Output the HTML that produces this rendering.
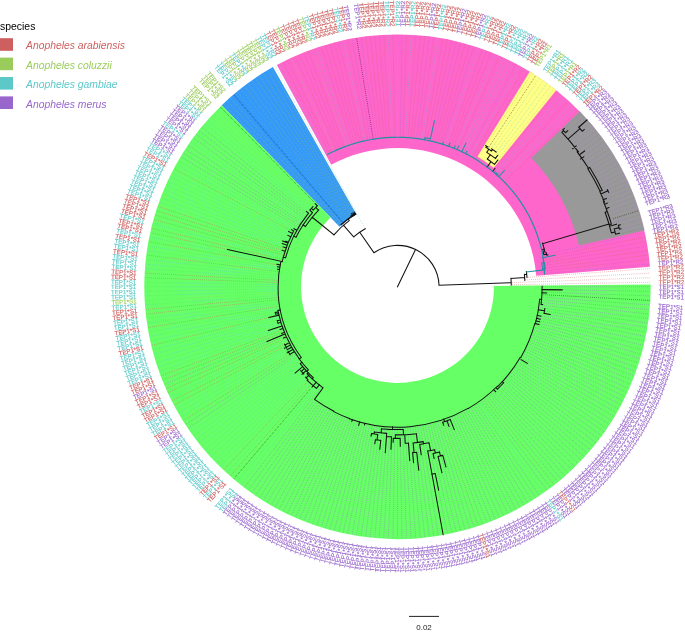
<!DOCTYPE html>
<html lang="en"><head><meta charset="utf-8"><title>TEP1 allele phylogeny</title>
<style>html,body{margin:0;padding:0;background:#fff}body{width:685px;height:632px;overflow:hidden}svg{display:block}</style>
</head><body>
<svg width="685" height="632" viewBox="0 0 685 632">
<defs><filter id="idf" x="0" y="0" width="685" height="632" filterUnits="userSpaceOnUse" color-interpolation-filters="sRGB"><feColorMatrix type="matrix" values="1 0 0 0 0 0 1 0 0 0 0 0 1 0 0 0 0 0 1 0"/></filter></defs>
<rect width="685" height="632" fill="#fff"/>
<g transform="translate(397.5 286.8) scale(1.0016 0.9984) translate(-397.5 -286.8)">
<g>
<path d="M535.97 275.83L649.51 266.83A252.8 252.8 0 0 0 277.07 64.53L331.33 164.67A138.9 138.9 0 0 1 535.97 275.83Z" fill="#ff66cc"/>
<path d="M578.78 245.18L643.89 230.23A252.8 252.8 0 0 0 579.45 111.3L531.37 157.67A186 186 0 0 1 578.78 245.18Z" fill="#999999" stroke="#999999" stroke-width="0.5"/>
<path d="M493.48 167.39L555.88 89.76A252.8 252.8 0 0 0 529.78 71.37L477.66 156.25A153.2 153.2 0 0 1 493.48 167.39Z" fill="#ffff88" stroke="#ffff88" stroke-width="0.5"/>
<path d="M356.45 214.2L273.08 66.74A252.8 252.8 0 0 0 222 104.85L339.6 226.77A83.4 83.4 0 0 1 356.45 214.2Z" fill="#3499f8"/>
<path d="M330.65 217.49L222 104.85A252.8 252.8 0 1 0 650.29 284.52L493.8 285.93A96.3 96.3 0 1 1 330.65 217.49Z" fill="#66ff66"/>
</g>
<g fill="none" stroke-width="0.6" stroke-dasharray="0.65 1.3">
<path stroke="#cd5f5f" d="M511.98 284.73L649.96 282.24M511.93 282.67L649.84 277.68M525.31 279.87L649.63 273.13M528.16 277.35L649.34 268.58M545.11 270.75L648.52 259.5M544.95 268.06L647.99 254.97M544.74 265.38L647.37 250.46M544.48 262.7L646.67 245.95M544.18 260.03L645.9 241.46M555.43 255.01L645.04 236.98M504.99 181.23L577.65 109.87M499.12 175.56L567.81 100.38M492.96 170.22L557.46 91.43M475.19 157.67L527.68 70.44M472.85 156.29L523.75 68.13M458.3 148.89L499.37 55.76M453.29 146.78L490.96 52.23M450.75 145.8L486.71 50.58M448.2 144.85L482.43 49.01M440.44 142.31L469.43 44.76M437.83 141.56L465.05 43.5M435.2 140.85L460.65 42.32M429.91 139.58L451.78 40.2M427.24 139.01L447.32 39.26M424.57 138.5L442.84 38.4M419.2 137.61L433.84 36.93M413.8 136.92L424.8 35.78M411.09 136.65L420.26 35.33M408.38 136.43L415.72 34.96M402.94 136.13L406.62 34.46M394.78 136.04L392.94 34.34M389.34 136.23L383.83 34.67M386.62 136.4L379.28 34.96M383.91 136.62L374.74 35.33M381.2 136.89L370.2 35.78M378.49 137.21L365.67 36.31M367.75 138.96L347.68 39.26M362.43 140.12L338.78 41.22M359.78 140.78L334.35 42.32M357.15 141.48L329.95 43.5M354.53 142.23L325.57 44.76M351.93 143.03L321.21 46.1M344.21 145.7L308.29 50.58M341.67 146.68L304.04 52.23M339.15 147.71L299.82 53.96M336.65 148.78L295.63 55.76M331.7 151.06L287.36 59.59M329.26 152.27L283.27 61.61M296.78 233.4L174.41 168.53M287 249.57L158.22 206.18M286.35 251.57L156.8 210.51M285.73 253.58L155.46 214.87M285.15 255.61L154.2 219.25M281.76 259.12L151.92 228.08M226.98 249.27L150.9 232.52M279.06 265.18L149.1 241.46M278.06 271.62L147.01 254.97M277.28 280.28L145.37 273.13M277.18 282.45L145.16 277.68M277.39 297.67L146.03 309.56M277.61 299.84L146.48 314.1M278.49 306.31L148.33 327.65M280.21 314.85L151.92 345.52M284.68 329.41L161.28 376.01M285.47 331.44L162.93 380.26M287.15 335.45L166.46 388.67M288.05 337.44L168.34 392.82M289.95 341.36L172.31 401.03M290.95 343.29L174.41 405.07M295.3 350.83L183.53 420.86M311.47 377.62L223.86 470.11M313.75 381.87L230.59 476.26M442.78 421.18L478.12 526.08M485.52 398.35L553.91 485.02"/>
<path stroke="#9966cc" d="M545.22 273.43L648.97 264.04M543.42 254.68L644.1 232.52M617.3 234.24L643.08 228.08M616.32 230.28L641.98 223.65M615.26 226.34L640.8 219.25M614.14 222.42L639.54 214.87M611.67 214.64L636.78 206.18M610.33 210.78L635.29 201.87M608.92 206.95L633.72 197.59M607.45 203.15L632.07 193.34M605.9 199.37L630.34 189.12M604.29 195.62L628.54 184.93M602.61 191.91L626.66 180.78M600.87 188.22L624.71 176.66M599.05 184.56L622.69 172.57M597.17 180.94L620.59 168.53M595.23 177.35L618.42 164.52M593.22 173.8L616.17 160.55M591.15 170.28L613.86 156.62M589.01 166.81L611.47 152.74M586.82 163.37L609.02 148.9M584.56 159.97L606.49 145.1M582.24 156.62L603.9 141.35M579.86 153.3L601.24 137.65M577.42 150.03L598.51 133.99M574.92 146.8L595.72 130.39M572.36 143.62L592.87 126.84M569.75 140.49L589.95 123.33M567.08 137.4L586.96 119.89M564.35 134.37L583.92 116.49M561.57 131.38L580.81 113.16M468.09 153.65L515.77 63.71M443.04 143.11L473.79 46.1M432.56 140.19L456.22 41.22M416.5 137.24L429.33 36.31M400.22 136.05L402.06 34.34M375.79 137.57L361.16 36.93M370.42 138.45L352.16 38.4M310.07 215.21L202.13 126.84M308.79 216.8L199.28 130.39M307.54 218.42L196.49 133.99M306.32 220.05L193.76 137.65M303.97 223.39L188.51 145.1M302 224.54L185.98 148.9M300.9 226.27L183.53 152.74M299.82 228.03L181.14 156.62M286.29 333.45L164.66 384.48M296.48 352.67L185.98 424.7M297.68 354.48L188.51 428.5M320.82 387.66L244.69 487.81M314.15 400.65L248.35 490.54M316.22 402.14L252.05 493.2M318.32 403.59L255.8 495.79M320.44 405L259.6 498.32M322.58 406.37L263.44 500.77M324.76 407.7L267.32 503.16M326.95 409L271.25 505.47M329.17 410.25L275.22 507.72M331.41 411.46L279.23 509.89M333.49 412.99L283.27 511.99M335.78 414.13L287.36 514.01M338.09 415.22L291.48 515.96M340.41 416.27L295.63 517.84M342.76 417.28L299.82 519.64M345.13 418.25L304.04 521.37M347.51 419.17L308.29 523.02M349.8 420.34L312.57 524.59M352.22 421.18L316.88 526.08M354.66 421.97L321.21 527.5M357.1 422.72L325.57 528.84M359.56 423.43L329.95 530.1M362.04 424.09L334.35 531.28M364.52 424.71L338.78 532.38M367.02 425.28L343.22 533.4M369.52 425.81L347.68 534.34M372.04 426.3L352.16 535.2M374.56 426.73L356.65 535.97M377.09 427.12L361.16 536.67M379.63 427.47L365.67 537.29M382.17 427.77L370.2 537.82M384.72 428.02L374.74 538.27M387.27 428.23L379.28 538.64M389.82 428.39L383.83 538.93M392.38 428.51L388.38 539.14M394.94 428.58L392.94 539.26M397.5 428.6L397.5 539.3M400.06 428.58L402.06 539.26M402.62 428.51L406.62 539.14M405.18 428.39L411.17 538.93M407.73 428.23L415.72 538.64M410.28 428.02L420.26 538.27M412.83 427.77L424.8 537.82M415.37 427.47L429.33 537.29M417.91 427.12L433.84 536.67M420.44 426.73L438.35 535.97M422.96 426.3L442.84 535.2M425.48 425.81L447.32 534.34M427.98 425.28L451.78 533.4M430.48 424.71L456.22 532.38M432.96 424.09L460.65 531.28M435.44 423.43L465.05 530.1M437.9 422.72L469.43 528.84M440.34 421.97L473.79 527.5M445.2 420.34L482.43 524.59M447.6 419.46L486.71 523.02M449.99 418.53L490.96 521.37M452.36 417.56L495.18 519.64M454.71 416.55L499.37 517.84M457.04 415.49L503.52 515.96M459.35 414.4L507.64 514.01M461.65 413.26L511.73 511.99M463.92 412.08L515.77 509.89M466.17 410.86L519.78 507.72M468.55 409.86L523.75 505.47M470.76 408.56L527.68 503.16M472.95 407.22L531.56 500.77M475.11 405.84L535.4 498.32M477.24 404.41L539.2 495.79M481.44 401.46L546.65 490.54M483.5 399.92L550.31 487.81M487.52 396.75L557.46 482.17M489.49 395.1L560.97 479.25M491.43 393.42L564.41 476.26M493.34 391.71L567.81 473.22M495.22 389.96L571.14 470.11M497.07 388.18L574.43 466.95M499.24 386.72L577.65 463.73M501.03 384.87L580.81 460.44M502.78 382.98L583.92 457.11M504.5 381.06L586.96 453.71M506.18 379.12L589.95 450.27M507.83 377.14L592.87 446.76M509.45 375.13L595.72 443.21M511.02 373.1L598.51 439.61M512.56 371.03L601.24 435.95M514.06 368.94L603.9 432.25M515.53 366.83L606.49 428.5M516.95 364.68L609.02 424.7M518.34 362.51L611.47 420.86M519.69 360.32L613.86 416.98M521.51 358.4L616.17 413.05M522.79 356.15L618.42 409.08M524.02 353.88L620.59 405.07M525.21 351.58L622.69 401.03M526.36 349.26L624.71 396.94M527.46 346.93L626.66 392.82M528.53 344.57L628.54 388.67M529.55 342.2L630.34 384.48M530.53 339.8L632.07 380.26M531.46 337.39L633.72 376.01M532.36 334.97L635.29 371.73M533.2 332.52L636.78 367.42M534.01 330.07L638.2 363.09M534.77 327.59L639.54 358.73M535.48 325.11L640.8 354.35M536.63 322.74L641.98 349.95M537.26 320.22L643.08 345.52M537.84 317.69L644.1 341.08M538.38 315.15L645.04 336.62M538.86 312.6L645.9 332.14M539.31 310.05L646.67 327.65M539.7 307.48L647.37 323.14M540.05 304.91L647.99 318.63M540.36 302.34L648.52 314.1M540.61 299.75L648.97 309.56M542.72 297.31L649.34 305.02M543.01 292.06L649.84 295.92M562.67 289.78L649.96 291.36M543.1 286.8L650 286.8"/>
<path stroke="#000000" d="M612.94 218.52L638.2 210.51M488.98 146.49L535.4 75.28M373.1 137.98L356.65 37.63M342.21 221.71L234.03 94.35M315.52 203.33L220.57 106.65M311.85 387.63L234.03 479.25M543.29 294.7L649.63 300.47"/>
<path stroke="#5cc8c8" d="M503.07 179.31L574.43 106.65M501.11 177.42L571.14 103.49M497.1 173.74L564.41 97.34M495.04 171.96L560.97 94.35M498.02 154.57L550.31 85.79M496.74 151.24L546.65 83.06M491.78 147.75L539.2 77.81M470.48 154.95L519.78 65.88M465.68 152.39L511.73 61.61M463.24 151.18L507.64 59.59M460.78 150.02L503.52 57.64M455.81 147.81L495.18 53.96M445.63 143.96L478.12 47.52M421.89 138.03L438.35 37.63M405.66 136.25L411.17 34.67M397.5 136.02L397.5 34.3M392.06 136.11L388.38 34.46M365.08 139.52L343.22 40.2M349.34 143.87L316.88 47.52M326.84 153.52L279.23 63.71M364.57 227.31L275.22 65.88M348.31 216.99L252.05 80.4M344.6 219.76L241.09 88.58M343.4 220.72L237.54 91.43M312.71 212.1L208.04 119.89M311.38 213.65L205.05 123.33M305.13 221.71L191.1 141.35M298.77 229.8L178.83 160.55M297.76 231.59L176.58 164.52M295.83 235.23L172.31 172.57M292.58 235.94L170.29 176.66M291.68 237.84L168.34 180.78M290.81 239.76L166.46 184.93M289.98 241.69L164.66 189.12M289.18 243.64L162.93 193.34M288.42 245.6L161.28 197.59M287.69 247.58L159.71 201.87M282.28 257.04L153.02 223.65M279.47 263.04L149.96 236.98M278.69 267.32L148.33 245.95M278.35 269.47L147.63 250.46M277.81 273.78L146.48 259.5M277.59 275.95L146.03 264.04M277.41 278.11L145.66 268.58M277.12 284.63L145.04 282.24M277.1 286.8L145 286.8M277.12 288.97L145.04 291.36M277.18 291.15L145.16 295.92M277.21 295.5L145.66 305.02M277.86 302L147.01 318.63M278.16 304.16L147.63 323.14M278.86 308.46L149.1 332.14M279.27 310.59L149.96 336.62M279.72 312.73L150.9 341.08M280.73 316.96L153.02 349.95M281.3 319.06L154.2 354.35M281.9 321.16L155.46 358.73M282.54 323.24L156.8 363.09M283.21 325.31L158.22 367.42M283.93 327.36L159.71 371.73M288.98 339.41L170.29 396.94M291.99 345.2L176.58 409.08M293.06 347.1L178.83 413.05M294.16 348.98L181.14 416.98M298.92 356.27L191.1 432.25M300.19 358.04L193.76 435.95M299.58 361.24L196.49 439.61M300.94 362.99L199.28 443.21M302.33 364.72L202.13 446.76M303.75 366.43L205.05 450.27M305.21 368.11L208.04 453.71M306.69 369.76L211.08 457.11M306.68 372.83L214.19 460.44M308.25 374.46L217.35 463.73M309.84 376.05L220.57 466.95M312.04 380.34L227.19 473.22M317.23 384.83L237.54 482.17M319.02 386.26L241.09 485.02M479.36 402.96L542.95 493.2"/>
<path stroke="#99cc5a" d="M498.1 159.31L553.91 88.58M494.27 149.47L542.95 80.4M486.43 144.86L531.56 72.83M346.77 144.76L312.57 49.01M334.16 149.9L291.48 57.64M354.8 212.84L271.25 68.13M353.47 213.62L267.32 70.44M352.16 214.43L263.44 72.83M350.86 215.26L259.6 75.28M349.57 216.12L255.8 77.81M347.05 217.89L248.35 83.06M345.82 218.81L244.69 85.79M341.05 222.72L230.59 97.34M339.9 223.75L227.19 100.38M338.77 224.8L223.86 103.49M314.03 204.82L217.35 109.87M312.56 206.34L214.19 113.16M311.12 207.89L211.08 116.49M277.08 293.33L145.37 300.47"/>
</g>
<g fill="none" stroke-linecap="square">
<path stroke="#111" stroke-width="1.05" d="M397.5 286.8L415.5 249.41M438.97 285.28A41.5 41.5 0 0 0 373.93 252.64M438.97 285.28L511.02 282.64M511.09 285.02A113.6 113.6 0 0 0 510.78 278.28M510.79 278.48L524.46 277.48M524.64 280.36A127.3 127.3 0 0 0 524.19 274.38M524.19 274.38L526.48 274.15M526.77 277.53A129.6 129.6 0 0 0 526.19 271.45M543.61 254.68A149.6 149.6 0 0 0 542.78 251.12M543.61 254.68L546.34 254.07M542.78 251.12L544.43 250.71M546.57 255.11A152.4 152.4 0 0 0 546.05 252.78M546.57 255.11L547.65 254.89M544.8 252.25A151.3 151.3 0 0 0 542.34 243.07M541.37 249.59L543.98 248.92M542.49 243.58L608.71 223.83M611.07 232.76A220.3 220.3 0 0 0 604.78 212.18M611.04 223.95A222.6 222.6 0 0 0 606.94 211.4M604.78 212.18L606.94 211.4M608.84 224.6L611.04 223.95M606.94 211.4A222.6 222.6 0 0 0 603.16 201.61M604.19 202.03A223.4 223.4 0 0 0 599.47 191.33M603.3 201.97L604.04 201.67M599.83 191.16A223.8 223.8 0 0 0 587.5 168.54M601.91 190.17A226.1 226.1 0 0 0 589.45 167.32M599.47 191.33L601.91 190.17M587.5 168.54L589.45 167.32M588.18 168.11A224.6 224.6 0 0 0 576.87 151.63M578.14 151.66A225.6 225.6 0 0 0 561.69 132.08M577.11 151.95L577.91 151.35M611.07 232.76L614.66 231.85M615.22 234.13A224 224 0 0 0 613.87 228.82M615.22 234.13L619.11 233.19M613.87 228.82L618.7 227.53M619.11 229.08A229 229 0 0 0 618.06 225.22M618.06 225.22L619.99 224.68M619.11 229.08L620.56 228.7M609.27 226.08L616.19 224.09M606.24 208.34L608.58 207.46M604.55 203.98L606.87 203.06M602.77 199.67L605.99 198.3M580.17 158.89L583.45 156.6M572.38 148.44L575.91 145.64M600.62 193.8L607.62 190.6M608.29 192.07A231.1 231.1 0 0 0 607.12 189.5M579.23 154.48L584.32 150.77M567.76 138.79L579.76 128.36M581.96 130.92A241.5 241.5 0 0 0 578.37 126.78M578.51 126.94L586.68 119.72M581.96 130.92L583.87 129.31M561.69 132.08L563.43 130.43M565.33 132.47A228 228 0 0 0 562.61 129.57M565.33 132.47L567.54 130.44M562.61 129.57L564.06 128.19M492.5 171.14L494.8 168.34M486.96 166.77L490.91 161.48M494.37 164.14A156.3 156.3 0 0 0 487.15 158.77M494.37 164.14L497.66 159.98M487.15 158.77L490.13 154.51M495.23 158.23A161.5 161.5 0 0 0 486.64 152.13M495.23 158.23L497.53 155.2M486.64 152.13L488.68 149.04M491.31 150.82A165.2 165.2 0 0 0 485.78 147.16M491.31 150.82L492.39 149.25M485.78 147.16L486.52 145.98M487.75 146.76A166.6 166.6 0 0 0 485.54 145.36M495.95 151.78A167.1 167.1 0 0 0 491.42 148.59M373.93 252.64L359.8 232.14M365.31 228.73A66.4 66.4 0 0 0 353.76 236.84M353.76 236.84L343.49 225.1M349.3 220.46A82 82 0 0 0 334.05 234.86M349.3 220.46L348.24 219M355.55 214.14L354.3 211.98M354.25 214.91L352.96 212.77M352.95 215.7L351.63 213.58M334.05 234.86L312.38 217.13M318.91 209.84A110 110 0 0 0 305.56 226.41M305.56 226.41L303.22 224.87M318.64 210.11L315.77 207.32M317.45 205.63A114 114 0 0 0 313.32 209.93M317.45 205.63L315.35 203.49M313.32 209.93L311.47 208.24M313.13 206.46A116.5 116.5 0 0 0 310.11 209.76M312.63 212.5A112.8 112.8 0 0 0 303.22 224.87M312.63 212.5L310.22 210.39M308.71 213.09A115.4 115.4 0 0 0 293.87 236.03M308.71 213.09L306.56 211.3M293.88 230.77A117.8 117.8 0 0 0 283.5 257.11M293.88 230.77L291.59 229.53M278.02 310.46A121.8 121.8 0 0 0 299.46 359.08M280.37 309.99L278.02 310.46M300.4 363.76A123.9 123.9 0 0 0 307.03 371.46M302.05 362.46L300.4 363.76M307.22 373.98A125.5 125.5 0 0 0 312.39 379.03M308.37 372.87L307.22 373.98M307.36 380.47A130 130 0 0 0 316.57 388.54M319.37 385.02L316.57 388.54M296.96 230.15L294.17 228.58M292.54 233.32L288.8 231.41M290.91 236.64L288.02 235.28M288.51 242.1L285.92 241.04M288.12 243.05L282.83 240.94M287.3 245.16L282.44 243.32M286.32 247.87L283.3 246.81M285.21 251.18L282.35 250.27M280.33 264.87L277.09 264.27M279.93 267.13L277.67 266.75M279.58 269.39L277.8 269.12M279.07 315.23L269.05 317.64M282.2 326.05L268.57 330.69M285.22 334L267.24 341.56M278.32 311.92L275.38 312.53M278.68 313.58L275.75 314.24M280.3 319.96L277.42 320.78M281.02 322.41L278.15 323.29M283.05 328.46L280.23 329.48M284.57 332.43L281.79 333.55M286.49 336.92L283.76 338.16M275.38 312.53A124.8 124.8 0 0 0 275.75 314.24M277.42 320.78A124.8 124.8 0 0 0 278.15 323.29M289.19 342.94L285.19 345.02M290.39 345.2L284.68 348.31M291.63 347.43L287.29 349.92M292.93 349.63L287.35 352.98M294.26 351.81L290.46 354.21M303.74 369.46L301.49 371.45M305.49 371.41L302.18 374.46M309.11 375.19L306.28 378.02M284.79 344.23A126.5 126.5 0 0 0 286.86 348.13M288.19 351.45A127 127 0 0 0 290.27 354.85M302.79 366.84L295.23 373.23M300.9 370.78A128 128 0 0 0 303.89 374.1M305.65 377.38A129 129 0 0 0 308.05 379.75M316.25 382.45L312.37 387.02M392.59 427.31L392.51 429.71M381.56 428.91A143 143 0 0 0 403.24 429.68M381.56 428.91L381.09 433.08M374.47 432.19A147.2 147.2 0 0 0 386.72 433.6M374.47 432.19L374.14 434.26M371.57 433.83A149.3 149.3 0 0 0 377.75 434.79M371.57 433.83L371.14 436.29M377.75 434.79L377.03 440.24M375.42 440.02A154.8 154.8 0 0 0 380.78 440.69M380.78 440.69L379.82 449.54M375.42 440.02L374.85 443.98M386.72 433.6L385.31 452.85M386.49 436.7A150.3 150.3 0 0 0 391.47 436.98M391.47 436.98L390.97 449.47M403.24 429.68L403.45 434.98M395.43 435.09A148.3 148.3 0 0 0 416.34 433.9M395.43 435.09L395.38 438.59M393.26 438.54A151.8 151.8 0 0 0 400.15 438.58M393.26 438.54L393.15 442.54M400.15 438.58L400.29 446.58M404.74 434.92L405.16 443.41M405.16 443.41A156.8 156.8 0 0 0 408.44 443.22M408.44 443.22L409.66 460.68M416.34 433.9L417.47 442.73M413.11 443.22A157.2 157.2 0 0 0 423.17 441.89M413.11 443.22L414.07 452.78M412.62 452.91A166.8 166.8 0 0 0 416.67 452.49M412.62 452.91L413.52 462.87M416.67 452.49L418.74 470.38M423.17 441.89L423.53 444.06M419.68 444.65A159.4 159.4 0 0 0 429.01 443.06M419.68 444.65L421.13 454.95M429.01 443.06L430.57 450.8M427.7 451.35A167.3 167.3 0 0 0 434.57 449.94M431.94 474.47A190.8 190.8 0 0 0 435.21 473.84M435.21 473.84L438.57 490.5M434.57 449.94L435.34 453.36M433.01 453.87A170.8 170.8 0 0 0 439.4 452.38M433.01 453.87L434.05 458.76M439.4 452.38L440.38 456.26M438.01 456.84A174.8 174.8 0 0 0 442.74 455.64M438.01 456.84L441.83 472.89M442.74 455.64L445.85 467.23M352.42 419.98L351.88 421.59M359.69 422.22L358.72 425.69M364.92 423.57L364.55 425.13M443.64 419.3L444.53 421.85M442.64 422.49A143 143 0 0 0 450.14 419.76M450.14 419.76L454.15 429.89M442.64 422.49L443.58 425.34M446.88 421L448.95 426.64M497.26 389.39A143.1 143.1 0 0 0 503.51 382.92M496.01 388.1L497.26 389.39M502.25 381.78L503.51 382.92M493.8 390.07L495.43 391.82M520.93 359.8L527.13 363.46M535.14 323.68L538.72 324.64M535.83 321.03L539.42 321.92M536.46 318.37L540.07 319.19M537.09 315.45L540.71 316.2M538.13 309.83L544.25 310.83M543.8 313.39A148.7 148.7 0 0 0 544.6 308.52M543.8 313.39L549.9 314.5M540.82 304.4A144.4 144.4 0 0 0 541.35 299.39M540.82 304.4L542.41 304.59M541.77 292.85L546.37 293.04"/>
<path stroke="#2390a4" stroke-width="1.05" d="M526.24 271.9L543.92 269.86M542.53 270.02A146 146 0 0 0 541.54 262.95M544.99 268.69A148.6 148.6 0 0 0 544.1 262.53M541.54 262.95L544.1 262.53M543.7 268.85L544.99 268.69M542 257.72L554.65 255.17M498.62 176.45L504.11 170.46M496.87 174.88L497.89 173.73M495.69 173.84L496.7 172.69M494.31 172.65L495.42 171.33M465.47 153.41L466.73 150.92M461.72 151.56L465.83 142.9M456.96 149.4L458.46 145.92M454.07 148.18L455.12 145.6M448.71 146.1L449.83 143.03M442.53 144L443.21 141.84M424.53 139.51L424.9 137.49M430.36 138.6A151.8 151.8 0 0 0 424.9 137.49M430.36 138.6L434.32 120.73"/>
<path stroke="#2390a4" stroke-width="1.2" d="M544.24 273.96L544.2 272.67L544.14 271.39L544.08 270.1L544 268.81L543.91 267.52L543.81 266.24L543.7 264.95L543.58 263.66L543.45 262.38L543.3 261.09L543.14 259.81L542.98 258.52L542.8 257.24L542.61 255.96L542.41 254.67L542.19 253.39L541.92 252.13L541.64 250.86L541.34 249.6L541.04 248.34L540.72 247.08L540.39 245.83L540.05 244.57L539.7 243.32L539.34 242.08L538.97 240.83L538.59 239.59L538.19 238.36L537.79 237.12L537.37 235.89L536.95 234.66L536.51 233.44L536.06 232.22L535.6 231L535.13 229.79L534.66 228.58L534.16 227.38L533.66 226.18L533.15 224.98L532.63 223.79L532.1 222.6L531.56 221.42L531 220.24L530.44 219.06L529.86 217.9L529.27 216.74L528.67 215.58L528.05 214.43L527.43 213.29L526.8 212.15L526.16 211.01L525.51 209.89L524.85 208.76L524.18 207.64L523.49 206.53L522.8 205.43L522.1 204.33L521.39 203.23L520.67 202.15L519.94 201.06L519.21 199.99L518.46 198.92L517.7 197.86L516.93 196.8L516.16 195.75L515.37 194.71L514.58 193.67L513.77 192.64L512.96 191.62L512.14 190.61L511.3 189.61L510.44 188.62L509.58 187.64L508.72 186.66L507.84 185.69L506.95 184.73L506.06 183.78L505.16 182.84L504.25 181.9L503.33 180.97L502.4 180.05L501.47 179.14L500.52 178.24L499.57 177.34L498.62 176.45L497.65 175.57L496.68 174.7L495.69 173.84L494.71 172.99L493.71 172.14L492.71 171.31L491.7 170.48L490.68 169.66L489.65 168.85L488.62 168.05L487.58 167.26L486.54 166.47L485.48 165.7L484.42 164.94L483.36 164.18L482.29 163.44L481.21 162.7L480.12 161.97L479.03 161.26L477.93 160.55L476.83 159.85L475.72 159.16L474.6 158.48L473.48 157.81L472.35 157.15L471.22 156.51L470.08 155.87L468.93 155.24L467.78 154.62L466.63 154.01L465.47 153.41L464.3 152.82L463.13 152.24L461.95 151.67L460.77 151.11L459.59 150.56L458.4 150.03L457.2 149.5L456 148.98L454.8 148.48L453.59 147.98L452.37 147.5L451.16 147.02L449.94 146.56L448.71 146.1L447.48 145.66L446.25 145.23L445.01 144.81L443.77 144.4L442.53 144L441.28 143.61L440.03 143.23L438.77 142.86L437.52 142.51L436.26 142.16L434.99 141.83L433.73 141.51L432.46 141.19L431.19 140.89L429.91 140.6L428.63 140.32L427.36 140.06L426.07 139.8L424.79 139.56L423.5 139.32L422.22 139.1L420.93 138.89L419.64 138.69L418.34 138.5L417.05 138.32L415.75 138.16L414.45 138L413.15 137.86L411.85 137.73L410.55 137.6L409.25 137.5L407.95 137.4L406.64 137.31L405.34 137.23L404.03 137.17L402.73 137.12L401.42 137.08L400.11 137.05L398.81 137.03L397.5 137.02L396.19 137.03L394.89 137.04L393.58 137.07L392.27 137.11L390.97 137.16L389.66 137.22L388.36 137.29L387.05 137.38L385.75 137.47L384.44 137.58L383.14 137.7L381.84 137.83L380.54 137.97L379.24 138.12L377.95 138.28L376.65 138.46L375.36 138.65L374.07 138.84L372.78 139.05L371.49 139.27L370.2 139.5L368.92 139.75L367.63 140L366.35 140.26L365.08 140.54L363.8 140.83L362.53 141.13L361.26 141.44L359.99 141.76L358.72 142.09L357.46 142.43L356.2 142.78L354.95 143.15L353.7 143.52L352.45 143.91L351.2 144.31L349.96 144.72L348.72 145.14L347.49 145.57L346.26 146.01L345.03 146.46L343.8 146.92L342.59 147.39L341.37 147.88L340.16 148.37L338.95 148.87L337.75 149.39L336.55 149.91L335.36 150.45L334.17 151L332.99 151.55L331.81 152.12L330.64 152.7L329.47 153.28L328.31 153.88L327.61 154.25"/>
<path stroke="#111" stroke-width="1.4" d="M355.68 214.07A83.9 83.9 0 0 0 341.36 224.45"/>
<path stroke="#111" stroke-width="1.0" d="M355.18 213.2A84.9 84.9 0 0 0 350.64 216M303.22 224.87A112.8 112.8 0 0 0 296.2 237.17M296.2 237.17L293.87 236.03M293.87 236.03A115.4 115.4 0 0 0 285.83 257.71M285.83 257.71L283.5 257.11M283.5 257.11A117.8 117.8 0 0 0 282.4 261.71M282.4 261.71L281.04 261.41M281.04 261.41A119.2 119.2 0 0 0 278.46 293.04M278.46 293.04L278.26 293.05M278.26 293.05A119.4 119.4 0 0 0 301.4 357.65M301.4 357.65L299.46 359.08M299.46 359.08A121.8 121.8 0 0 0 308.57 370.02M308.57 370.02L307.03 371.46M307.03 371.46A123.9 123.9 0 0 0 313.48 377.86M313.48 377.86L312.39 379.03M312.39 379.03A125.5 125.5 0 0 0 323.2 387.94M323.2 387.94L314.68 399.55M314.68 399.55A139.9 139.9 0 0 0 333.99 411.45M333.99 411.45L333.81 411.81M333.81 411.81A140.3 140.3 0 0 0 349.51 418.64M349.51 418.64L349.41 418.92M349.41 418.92A140.6 140.6 0 0 0 467.8 408.56M467.8 408.56L467.95 408.82M467.95 408.82A140.9 140.9 0 0 0 497.13 386.43M497.13 386.43L497.48 386.78M497.48 386.78A141.4 141.4 0 0 0 519.96 357.5M519.96 357.5L520.48 357.8M520.48 357.8A142 142 0 0 0 534.66 323.55M534.66 323.55L535.14 323.68M535.14 323.68A142.5 142.5 0 0 0 539.46 299.22M539.46 299.22L541.35 299.39M541.35 299.39A144.4 144.4 0 0 0 541.9 286.3M541.9 286.3L541.9 286.3M282.45 261.48L227.76 249.44M427.7 451.35L443.08 535.15"/>
<path stroke="#111" stroke-width="1.3" d="M541.87 289.57L561.77 289.95"/>
</g>
<g font-family="'Liberation Sans', Arial, sans-serif" font-size="6.15" filter="url(#idf)" stroke-width="0.14" text-rendering="geometricPrecision">
<text transform="translate(658.36 282.09) rotate(-1.03)" dy="0.4em" fill="#cd5f5f" stroke="#cd5f5f">TEP1*R2</text>
<text transform="translate(658.23 277.38) rotate(-2.07)" dy="0.4em" fill="#cd5f5f" stroke="#cd5f5f">TEP1*R2</text>
<text transform="translate(658.02 272.68) rotate(-3.1)" dy="0.4em" fill="#cd5f5f" stroke="#cd5f5f">TEP1*R2</text>
<text transform="translate(657.72 267.97) rotate(-4.14)" dy="0.4em" fill="#cd5f5f" stroke="#cd5f5f">TEP1*R2</text>
<text transform="translate(657.34 263.28) rotate(-5.17)" dy="0.4em" fill="#9966cc" stroke="#9966cc">TEP1*R2</text>
<text transform="translate(656.87 258.59) rotate(-6.21)" dy="0.4em" fill="#cd5f5f" stroke="#cd5f5f">TEP1*R2</text>
<text transform="translate(656.32 253.91) rotate(-7.24)" dy="0.4em" fill="#cd5f5f" stroke="#cd5f5f">TEP1*R2</text>
<text transform="translate(655.68 249.25) rotate(-8.28)" dy="0.4em" fill="#cd5f5f" stroke="#cd5f5f">TEP1*R2</text>
<text transform="translate(654.96 244.59) rotate(-9.31)" dy="0.4em" fill="#cd5f5f" stroke="#cd5f5f">TEP1*R2</text>
<text transform="translate(654.16 239.95) rotate(-10.34)" dy="0.4em" fill="#cd5f5f" stroke="#cd5f5f">TEP1*R2</text>
<text transform="translate(653.27 235.32) rotate(-11.38)" dy="0.4em" fill="#cd5f5f" stroke="#cd5f5f">TEP1*R2</text>
<text transform="translate(652.3 230.71) rotate(-12.41)" dy="0.4em" fill="#9966cc" stroke="#9966cc">TEP1*R2</text>
<text transform="translate(651.25 226.12) rotate(-13.45)" dy="0.4em" fill="#9966cc" stroke="#9966cc">TEP1*R3</text>
<text transform="translate(650.11 221.55) rotate(-14.48)" dy="0.4em" fill="#9966cc" stroke="#9966cc">TEP1*R3</text>
<text transform="translate(648.89 217) rotate(-15.52)" dy="0.4em" fill="#9966cc" stroke="#9966cc">TEP1*R3</text>
<text transform="translate(647.59 212.47) rotate(-16.55)" dy="0.4em" fill="#9966cc" stroke="#9966cc">TEP1*R3</text>
<text transform="translate(644.74 203.49) rotate(-18.62)" dy="0.4em" fill="#9966cc" stroke="#9966cc">TEP1*R3</text>
<text transform="translate(643.2 199.04) rotate(-19.66)" dy="0.4em" fill="#9966cc" stroke="#9966cc">TEP1*R3</text>
<text transform="translate(641.57 194.62) rotate(-20.69)" dy="0.4em" fill="#9966cc" stroke="#9966cc">TEP1*R3</text>
<text transform="translate(639.87 190.23) rotate(-21.72)" dy="0.4em" fill="#9966cc" stroke="#9966cc">TEP1*R3</text>
<text transform="translate(638.09 185.87) rotate(-22.76)" dy="0.4em" fill="#9966cc" stroke="#9966cc">TEP1*R3</text>
<text transform="translate(636.23 181.54) rotate(-23.79)" dy="0.4em" fill="#9966cc" stroke="#9966cc">TEP1*R3</text>
<text transform="translate(634.29 177.25) rotate(-24.83)" dy="0.4em" fill="#9966cc" stroke="#9966cc">TEP1*R3</text>
<text transform="translate(632.27 172.99) rotate(-25.86)" dy="0.4em" fill="#9966cc" stroke="#9966cc">TEP1*R3</text>
<text transform="translate(630.18 168.77) rotate(-26.9)" dy="0.4em" fill="#9966cc" stroke="#9966cc">TEP1*R3</text>
<text transform="translate(628.01 164.59) rotate(-27.93)" dy="0.4em" fill="#9966cc" stroke="#9966cc">TEP1*R3</text>
<text transform="translate(625.76 160.45) rotate(-28.97)" dy="0.4em" fill="#9966cc" stroke="#9966cc">TEP1*R3</text>
<text transform="translate(623.45 156.35) rotate(-30)" dy="0.4em" fill="#9966cc" stroke="#9966cc">TEP1*R3</text>
<text transform="translate(621.05 152.29) rotate(-31.03)" dy="0.4em" fill="#9966cc" stroke="#9966cc">TEP1*R3</text>
<text transform="translate(618.59 148.28) rotate(-32.07)" dy="0.4em" fill="#9966cc" stroke="#9966cc">TEP1*R3</text>
<text transform="translate(616.05 144.31) rotate(-33.1)" dy="0.4em" fill="#9966cc" stroke="#9966cc">TEP1*R3</text>
<text transform="translate(613.44 140.39) rotate(-34.14)" dy="0.4em" fill="#9966cc" stroke="#9966cc">TEP1*R3</text>
<text transform="translate(610.77 136.51) rotate(-35.17)" dy="0.4em" fill="#9966cc" stroke="#9966cc">TEP1*R3</text>
<text transform="translate(608.02 132.69) rotate(-36.21)" dy="0.4em" fill="#9966cc" stroke="#9966cc">TEP1*R3</text>
<text transform="translate(605.2 128.91) rotate(-37.24)" dy="0.4em" fill="#9966cc" stroke="#9966cc">TEP1*R3</text>
<text transform="translate(602.32 125.19) rotate(-38.28)" dy="0.4em" fill="#9966cc" stroke="#9966cc">TEP1*R3</text>
<text transform="translate(599.37 121.51) rotate(-39.31)" dy="0.4em" fill="#9966cc" stroke="#9966cc">TEP1*R3</text>
<text transform="translate(596.35 117.9) rotate(-40.34)" dy="0.4em" fill="#9966cc" stroke="#9966cc">TEP1*R3</text>
<text transform="translate(593.27 114.33) rotate(-41.38)" dy="0.4em" fill="#9966cc" stroke="#9966cc">TEP1*R3</text>
<text transform="translate(590.12 110.83) rotate(-42.41)" dy="0.4em" fill="#9966cc" stroke="#9966cc">TEP1*R3</text>
<text transform="translate(586.91 107.38) rotate(-43.45)" dy="0.4em" fill="#9966cc" stroke="#9966cc">TEP1*R3</text>
<text transform="translate(583.64 103.99) rotate(-44.48)" dy="0.4em" fill="#cd5f5f" stroke="#cd5f5f">TEP1*R2</text>
<text transform="translate(580.31 100.66) rotate(-45.52)" dy="0.4em" fill="#5cc8c8" stroke="#5cc8c8">TEP1*R3</text>
<text transform="translate(576.92 97.39) rotate(-46.55)" dy="0.4em" fill="#5cc8c8" stroke="#5cc8c8">TEP1*R3</text>
<text transform="translate(573.47 94.18) rotate(-47.59)" dy="0.4em" fill="#cd5f5f" stroke="#cd5f5f">TEP1*R2</text>
<text transform="translate(569.97 91.03) rotate(-48.62)" dy="0.4em" fill="#5cc8c8" stroke="#5cc8c8">TEP1*R2</text>
<text transform="translate(566.4 87.95) rotate(-49.66)" dy="0.4em" fill="#5cc8c8" stroke="#5cc8c8">TEP1*R2</text>
<text transform="translate(562.79 84.93) rotate(-50.69)" dy="0.4em" fill="#cd5f5f" stroke="#cd5f5f">TEP1*R2</text>
<text transform="translate(559.11 81.98) rotate(-51.72)" dy="0.4em" fill="#99cc5a" stroke="#99cc5a">TEP1*R1</text>
<text transform="translate(555.39 79.1) rotate(-52.76)" dy="0.4em" fill="#5cc8c8" stroke="#5cc8c8">TEP1*R1</text>
<text transform="translate(551.61 76.28) rotate(-53.79)" dy="0.4em" fill="#5cc8c8" stroke="#5cc8c8">TEP1*R1</text>
<text transform="translate(547.79 73.53) rotate(-54.83)" dy="0.4em" fill="#99cc5a" stroke="#99cc5a">TEP1*R1</text>
<text transform="translate(543.91 70.86) rotate(-55.86)" dy="0.4em" fill="#5cc8c8" stroke="#5cc8c8">TEP1*R1</text>
<text transform="translate(536.02 65.71) rotate(-57.93)" dy="0.4em" fill="#99cc5a" stroke="#99cc5a">TEP1*R1</text>
<text transform="translate(532.01 63.25) rotate(-58.97)" dy="0.4em" fill="#cd5f5f" stroke="#cd5f5f">TEP1*R2</text>
<text transform="translate(527.95 60.85) rotate(-60)" dy="0.4em" fill="#cd5f5f" stroke="#cd5f5f">TEP1*R2</text>
<text transform="translate(523.85 58.54) rotate(-61.03)" dy="0.4em" fill="#5cc8c8" stroke="#5cc8c8">TEP1*R2</text>
<text transform="translate(519.71 56.29) rotate(-62.07)" dy="0.4em" fill="#9966cc" stroke="#9966cc">TEP1*R2</text>
<text transform="translate(515.53 54.12) rotate(-63.1)" dy="0.4em" fill="#5cc8c8" stroke="#5cc8c8">TEP1*R2</text>
<text transform="translate(511.31 52.03) rotate(-64.14)" dy="0.4em" fill="#5cc8c8" stroke="#5cc8c8">TEP1*R2</text>
<text transform="translate(507.05 50.01) rotate(-65.17)" dy="0.4em" fill="#5cc8c8" stroke="#5cc8c8">TEP1*R2</text>
<text transform="translate(502.76 48.07) rotate(-66.21)" dy="0.4em" fill="#cd5f5f" stroke="#cd5f5f">TEP1*R2</text>
<text transform="translate(498.43 46.21) rotate(-67.24)" dy="0.4em" fill="#5cc8c8" stroke="#5cc8c8">TEP1*R2</text>
<text transform="translate(494.07 44.43) rotate(-68.28)" dy="0.4em" fill="#cd5f5f" stroke="#cd5f5f">TEP1*R2</text>
<text transform="translate(489.68 42.73) rotate(-69.31)" dy="0.4em" fill="#cd5f5f" stroke="#cd5f5f">TEP1*R2</text>
<text transform="translate(485.26 41.1) rotate(-70.34)" dy="0.4em" fill="#cd5f5f" stroke="#cd5f5f">TEP1*R2</text>
<text transform="translate(480.81 39.56) rotate(-71.38)" dy="0.4em" fill="#5cc8c8" stroke="#5cc8c8">TEP1*R2</text>
<text transform="translate(476.33 38.09) rotate(-72.41)" dy="0.4em" fill="#9966cc" stroke="#9966cc">TEP1*R2</text>
<text transform="translate(471.83 36.71) rotate(-73.45)" dy="0.4em" fill="#cd5f5f" stroke="#cd5f5f">TEP1*R2</text>
<text transform="translate(467.3 35.41) rotate(-74.48)" dy="0.4em" fill="#cd5f5f" stroke="#cd5f5f">TEP1*R2</text>
<text transform="translate(462.75 34.19) rotate(-75.52)" dy="0.4em" fill="#cd5f5f" stroke="#cd5f5f">TEP1*R2</text>
<text transform="translate(458.18 33.05) rotate(-76.55)" dy="0.4em" fill="#9966cc" stroke="#9966cc">TEP1*R2</text>
<text transform="translate(453.59 32) rotate(-77.59)" dy="0.4em" fill="#cd5f5f" stroke="#cd5f5f">TEP1*R2</text>
<text transform="translate(448.98 31.03) rotate(-78.62)" dy="0.4em" fill="#cd5f5f" stroke="#cd5f5f">TEP1*R2</text>
<text transform="translate(444.35 30.14) rotate(-79.66)" dy="0.4em" fill="#cd5f5f" stroke="#cd5f5f">TEP1*R2</text>
<text transform="translate(439.71 29.34) rotate(-80.69)" dy="0.4em" fill="#5cc8c8" stroke="#5cc8c8">TEP1*R2</text>
<text transform="translate(435.05 28.62) rotate(-81.72)" dy="0.4em" fill="#cd5f5f" stroke="#cd5f5f">TEP1*R2</text>
<text transform="translate(430.39 27.98) rotate(-82.76)" dy="0.4em" fill="#9966cc" stroke="#9966cc">TEP1*R2</text>
<text transform="translate(425.71 27.43) rotate(-83.79)" dy="0.4em" fill="#cd5f5f" stroke="#cd5f5f">TEP1*R2</text>
<text transform="translate(421.02 26.96) rotate(-84.83)" dy="0.4em" fill="#cd5f5f" stroke="#cd5f5f">TEP1*R2</text>
<text transform="translate(416.33 26.58) rotate(-85.86)" dy="0.4em" fill="#cd5f5f" stroke="#cd5f5f">TEP1*R2</text>
<text transform="translate(411.62 26.28) rotate(-86.9)" dy="0.4em" fill="#5cc8c8" stroke="#5cc8c8">TEP1*R2</text>
<text transform="translate(406.92 26.07) rotate(-87.93)" dy="0.4em" fill="#cd5f5f" stroke="#cd5f5f">TEP1*R2</text>
<text transform="translate(402.21 25.94) rotate(-88.97)" dy="0.4em" fill="#9966cc" stroke="#9966cc">TEP1*R2</text>
<text transform="translate(397.5 25.9) rotate(-90)" dy="0.4em" fill="#5cc8c8" stroke="#5cc8c8">TEP1*R2</text>
<text transform="translate(392.79 25.94) rotate(88.97)" dy="0.4em" fill="#cd5f5f" stroke="#cd5f5f" text-anchor="end">TEP1*R2</text>
<text transform="translate(388.08 26.07) rotate(87.93)" dy="0.4em" fill="#5cc8c8" stroke="#5cc8c8" text-anchor="end">TEP1*R2</text>
<text transform="translate(383.38 26.28) rotate(86.9)" dy="0.4em" fill="#cd5f5f" stroke="#cd5f5f" text-anchor="end">TEP1*R2</text>
<text transform="translate(378.67 26.58) rotate(85.86)" dy="0.4em" fill="#cd5f5f" stroke="#cd5f5f" text-anchor="end">TEP1*R2</text>
<text transform="translate(373.98 26.96) rotate(84.83)" dy="0.4em" fill="#cd5f5f" stroke="#cd5f5f" text-anchor="end">TEP1*R2</text>
<text transform="translate(369.29 27.43) rotate(83.79)" dy="0.4em" fill="#cd5f5f" stroke="#cd5f5f" text-anchor="end">TEP1*R2</text>
<text transform="translate(364.61 27.98) rotate(82.76)" dy="0.4em" fill="#cd5f5f" stroke="#cd5f5f" text-anchor="end">TEP1*R2</text>
<text transform="translate(359.95 28.62) rotate(81.72)" dy="0.4em" fill="#9966cc" stroke="#9966cc" text-anchor="end">TEP1*R2</text>
<text transform="translate(350.65 30.14) rotate(79.66)" dy="0.4em" fill="#9966cc" stroke="#9966cc" text-anchor="end">TEP1*R2</text>
<text transform="translate(346.02 31.03) rotate(78.62)" dy="0.4em" fill="#cd5f5f" stroke="#cd5f5f" text-anchor="end">TEP1*R2</text>
<text transform="translate(341.41 32) rotate(77.59)" dy="0.4em" fill="#5cc8c8" stroke="#5cc8c8" text-anchor="end">TEP1*R2</text>
<text transform="translate(336.82 33.05) rotate(76.55)" dy="0.4em" fill="#cd5f5f" stroke="#cd5f5f" text-anchor="end">TEP1*R2</text>
<text transform="translate(332.25 34.19) rotate(75.52)" dy="0.4em" fill="#cd5f5f" stroke="#cd5f5f" text-anchor="end">TEP1*R2</text>
<text transform="translate(327.7 35.41) rotate(74.48)" dy="0.4em" fill="#cd5f5f" stroke="#cd5f5f" text-anchor="end">TEP1*R2</text>
<text transform="translate(323.17 36.71) rotate(73.45)" dy="0.4em" fill="#cd5f5f" stroke="#cd5f5f" text-anchor="end">TEP1*R2</text>
<text transform="translate(318.67 38.09) rotate(72.41)" dy="0.4em" fill="#cd5f5f" stroke="#cd5f5f" text-anchor="end">TEP1*R2</text>
<text transform="translate(314.19 39.56) rotate(71.38)" dy="0.4em" fill="#5cc8c8" stroke="#5cc8c8" text-anchor="end">TEP1*R2</text>
<text transform="translate(309.74 41.1) rotate(70.34)" dy="0.4em" fill="#99cc5a" stroke="#99cc5a" text-anchor="end">TEP1*R2</text>
<text transform="translate(305.32 42.73) rotate(69.31)" dy="0.4em" fill="#cd5f5f" stroke="#cd5f5f" text-anchor="end">TEP1*R2</text>
<text transform="translate(300.93 44.43) rotate(68.28)" dy="0.4em" fill="#cd5f5f" stroke="#cd5f5f" text-anchor="end">TEP1*R2</text>
<text transform="translate(296.57 46.21) rotate(67.24)" dy="0.4em" fill="#cd5f5f" stroke="#cd5f5f" text-anchor="end">TEP1*R2</text>
<text transform="translate(292.24 48.07) rotate(66.21)" dy="0.4em" fill="#cd5f5f" stroke="#cd5f5f" text-anchor="end">TEP1*R2</text>
<text transform="translate(287.95 50.01) rotate(65.17)" dy="0.4em" fill="#99cc5a" stroke="#99cc5a" text-anchor="end">TEP1*R2</text>
<text transform="translate(283.69 52.03) rotate(64.14)" dy="0.4em" fill="#cd5f5f" stroke="#cd5f5f" text-anchor="end">TEP1*R2</text>
<text transform="translate(279.47 54.12) rotate(63.1)" dy="0.4em" fill="#cd5f5f" stroke="#cd5f5f" text-anchor="end">TEP1*R2</text>
<text transform="translate(275.29 56.29) rotate(62.07)" dy="0.4em" fill="#5cc8c8" stroke="#5cc8c8" text-anchor="end">TEP1*R2</text>
<text transform="translate(271.15 58.54) rotate(61.03)" dy="0.4em" fill="#5cc8c8" stroke="#5cc8c8" text-anchor="end">TEP1*S2</text>
<text transform="translate(267.05 60.85) rotate(60)" dy="0.4em" fill="#99cc5a" stroke="#99cc5a" text-anchor="end">TEP1*S2</text>
<text transform="translate(262.99 63.25) rotate(58.97)" dy="0.4em" fill="#99cc5a" stroke="#99cc5a" text-anchor="end">TEP1*S2</text>
<text transform="translate(258.98 65.71) rotate(57.93)" dy="0.4em" fill="#99cc5a" stroke="#99cc5a" text-anchor="end">TEP1*S2</text>
<text transform="translate(255.01 68.25) rotate(56.9)" dy="0.4em" fill="#99cc5a" stroke="#99cc5a" text-anchor="end">TEP1*S2</text>
<text transform="translate(251.09 70.86) rotate(55.86)" dy="0.4em" fill="#99cc5a" stroke="#99cc5a" text-anchor="end">TEP1*S2</text>
<text transform="translate(247.21 73.53) rotate(54.83)" dy="0.4em" fill="#5cc8c8" stroke="#5cc8c8" text-anchor="end">TEP1*S2</text>
<text transform="translate(243.39 76.28) rotate(53.79)" dy="0.4em" fill="#99cc5a" stroke="#99cc5a" text-anchor="end">TEP1*S2</text>
<text transform="translate(239.61 79.1) rotate(52.76)" dy="0.4em" fill="#99cc5a" stroke="#99cc5a" text-anchor="end">TEP1*S2</text>
<text transform="translate(235.89 81.98) rotate(51.72)" dy="0.4em" fill="#5cc8c8" stroke="#5cc8c8" text-anchor="end">TEP1*S2</text>
<text transform="translate(232.21 84.93) rotate(50.69)" dy="0.4em" fill="#5cc8c8" stroke="#5cc8c8" text-anchor="end">TEP1*S2</text>
<text transform="translate(225.03 91.03) rotate(48.62)" dy="0.4em" fill="#99cc5a" stroke="#99cc5a" text-anchor="end">TEP1*S2</text>
<text transform="translate(221.53 94.18) rotate(47.59)" dy="0.4em" fill="#99cc5a" stroke="#99cc5a" text-anchor="end">TEP1*S2</text>
<text transform="translate(218.08 97.39) rotate(46.55)" dy="0.4em" fill="#99cc5a" stroke="#99cc5a" text-anchor="end">TEP1*S2</text>
<text transform="translate(211.36 103.99) rotate(44.48)" dy="0.4em" fill="#99cc5a" stroke="#99cc5a" text-anchor="end">TEP1*S1</text>
<text transform="translate(208.09 107.38) rotate(43.45)" dy="0.4em" fill="#99cc5a" stroke="#99cc5a" text-anchor="end">TEP1*S1</text>
<text transform="translate(204.88 110.83) rotate(42.41)" dy="0.4em" fill="#99cc5a" stroke="#99cc5a" text-anchor="end">TEP1*S1</text>
<text transform="translate(201.73 114.33) rotate(41.38)" dy="0.4em" fill="#5cc8c8" stroke="#5cc8c8" text-anchor="end">TEP1*S1</text>
<text transform="translate(198.65 117.9) rotate(40.34)" dy="0.4em" fill="#5cc8c8" stroke="#5cc8c8" text-anchor="end">TEP1*S1</text>
<text transform="translate(195.63 121.51) rotate(39.31)" dy="0.4em" fill="#9966cc" stroke="#9966cc" text-anchor="end">TEP1*S1</text>
<text transform="translate(192.68 125.19) rotate(38.28)" dy="0.4em" fill="#9966cc" stroke="#9966cc" text-anchor="end">TEP1*S1</text>
<text transform="translate(189.8 128.91) rotate(37.24)" dy="0.4em" fill="#9966cc" stroke="#9966cc" text-anchor="end">TEP1*S1</text>
<text transform="translate(186.98 132.69) rotate(36.21)" dy="0.4em" fill="#9966cc" stroke="#9966cc" text-anchor="end">TEP1*S1</text>
<text transform="translate(184.23 136.51) rotate(35.17)" dy="0.4em" fill="#5cc8c8" stroke="#5cc8c8" text-anchor="end">TEP1*S1</text>
<text transform="translate(181.56 140.39) rotate(34.14)" dy="0.4em" fill="#9966cc" stroke="#9966cc" text-anchor="end">TEP1*S1</text>
<text transform="translate(178.95 144.31) rotate(33.1)" dy="0.4em" fill="#9966cc" stroke="#9966cc" text-anchor="end">TEP1*S1</text>
<text transform="translate(176.41 148.28) rotate(32.07)" dy="0.4em" fill="#9966cc" stroke="#9966cc" text-anchor="end">TEP1*S1</text>
<text transform="translate(173.95 152.29) rotate(31.03)" dy="0.4em" fill="#9966cc" stroke="#9966cc" text-anchor="end">TEP1*S1</text>
<text transform="translate(171.55 156.35) rotate(30)" dy="0.4em" fill="#5cc8c8" stroke="#5cc8c8" text-anchor="end">TEP1*S1</text>
<text transform="translate(169.24 160.45) rotate(28.97)" dy="0.4em" fill="#5cc8c8" stroke="#5cc8c8" text-anchor="end">TEP1*S1</text>
<text transform="translate(166.99 164.59) rotate(27.93)" dy="0.4em" fill="#cd5f5f" stroke="#cd5f5f" text-anchor="end">TEP1*S1</text>
<text transform="translate(164.82 168.77) rotate(26.9)" dy="0.4em" fill="#5cc8c8" stroke="#5cc8c8" text-anchor="end">TEP1*S1</text>
<text transform="translate(162.73 172.99) rotate(25.86)" dy="0.4em" fill="#5cc8c8" stroke="#5cc8c8" text-anchor="end">TEP1*S1</text>
<text transform="translate(160.71 177.25) rotate(24.83)" dy="0.4em" fill="#5cc8c8" stroke="#5cc8c8" text-anchor="end">TEP1*S1</text>
<text transform="translate(158.77 181.54) rotate(23.79)" dy="0.4em" fill="#5cc8c8" stroke="#5cc8c8" text-anchor="end">TEP1*S1</text>
<text transform="translate(156.91 185.87) rotate(22.76)" dy="0.4em" fill="#5cc8c8" stroke="#5cc8c8" text-anchor="end">TEP1*S1</text>
<text transform="translate(155.13 190.23) rotate(21.72)" dy="0.4em" fill="#5cc8c8" stroke="#5cc8c8" text-anchor="end">TEP1*S1</text>
<text transform="translate(153.43 194.62) rotate(20.69)" dy="0.4em" fill="#5cc8c8" stroke="#5cc8c8" text-anchor="end">TEP1*S1</text>
<text transform="translate(151.8 199.04) rotate(19.66)" dy="0.4em" fill="#5cc8c8" stroke="#5cc8c8" text-anchor="end">TEP1*S1</text>
<text transform="translate(150.26 203.49) rotate(18.62)" dy="0.4em" fill="#cd5f5f" stroke="#cd5f5f" text-anchor="end">TEP1*S1</text>
<text transform="translate(148.79 207.97) rotate(17.59)" dy="0.4em" fill="#cd5f5f" stroke="#cd5f5f" text-anchor="end">TEP1*S1</text>
<text transform="translate(147.41 212.47) rotate(16.55)" dy="0.4em" fill="#cd5f5f" stroke="#cd5f5f" text-anchor="end">TEP1*S1</text>
<text transform="translate(146.11 217) rotate(15.52)" dy="0.4em" fill="#cd5f5f" stroke="#cd5f5f" text-anchor="end">TEP1*S1</text>
<text transform="translate(144.89 221.55) rotate(14.48)" dy="0.4em" fill="#5cc8c8" stroke="#5cc8c8" text-anchor="end">TEP1*S1</text>
<text transform="translate(143.75 226.12) rotate(13.45)" dy="0.4em" fill="#cd5f5f" stroke="#cd5f5f" text-anchor="end">TEP1*S1</text>
<text transform="translate(142.7 230.71) rotate(12.41)" dy="0.4em" fill="#cd5f5f" stroke="#cd5f5f" text-anchor="end">TEP1*S1</text>
<text transform="translate(141.73 235.32) rotate(11.38)" dy="0.4em" fill="#5cc8c8" stroke="#5cc8c8" text-anchor="end">TEP1*S1</text>
<text transform="translate(140.84 239.95) rotate(10.34)" dy="0.4em" fill="#cd5f5f" stroke="#cd5f5f" text-anchor="end">TEP1*S1</text>
<text transform="translate(140.04 244.59) rotate(9.31)" dy="0.4em" fill="#5cc8c8" stroke="#5cc8c8" text-anchor="end">TEP1*S1</text>
<text transform="translate(139.32 249.25) rotate(8.28)" dy="0.4em" fill="#5cc8c8" stroke="#5cc8c8" text-anchor="end">TEP1*S1</text>
<text transform="translate(138.68 253.91) rotate(7.24)" dy="0.4em" fill="#cd5f5f" stroke="#cd5f5f" text-anchor="end">TEP1*S1</text>
<text transform="translate(138.13 258.59) rotate(6.21)" dy="0.4em" fill="#5cc8c8" stroke="#5cc8c8" text-anchor="end">TEP1*S1</text>
<text transform="translate(137.66 263.28) rotate(5.17)" dy="0.4em" fill="#5cc8c8" stroke="#5cc8c8" text-anchor="end">TEP1*S1</text>
<text transform="translate(137.28 267.97) rotate(4.14)" dy="0.4em" fill="#5cc8c8" stroke="#5cc8c8" text-anchor="end">TEP1*S1</text>
<text transform="translate(136.98 272.68) rotate(3.1)" dy="0.4em" fill="#cd5f5f" stroke="#cd5f5f" text-anchor="end">TEP1*S1</text>
<text transform="translate(136.77 277.38) rotate(2.07)" dy="0.4em" fill="#cd5f5f" stroke="#cd5f5f" text-anchor="end">TEP1*S1</text>
<text transform="translate(136.64 282.09) rotate(1.03)" dy="0.4em" fill="#5cc8c8" stroke="#5cc8c8" text-anchor="end">TEP1*S1</text>
<text transform="translate(136.6 286.8) rotate(0)" dy="0.4em" fill="#5cc8c8" stroke="#5cc8c8" text-anchor="end">TEP1*S1</text>
<text transform="translate(136.64 291.51) rotate(-1.03)" dy="0.4em" fill="#5cc8c8" stroke="#5cc8c8" text-anchor="end">TEP1*S1</text>
<text transform="translate(136.77 296.22) rotate(-2.07)" dy="0.4em" fill="#5cc8c8" stroke="#5cc8c8" text-anchor="end">TEP1*S1</text>
<text transform="translate(136.98 300.92) rotate(-3.1)" dy="0.4em" fill="#99cc5a" stroke="#99cc5a" text-anchor="end">TEP1*S1</text>
<text transform="translate(137.28 305.63) rotate(-4.14)" dy="0.4em" fill="#5cc8c8" stroke="#5cc8c8" text-anchor="end">TEP1*S1</text>
<text transform="translate(137.66 310.32) rotate(-5.17)" dy="0.4em" fill="#cd5f5f" stroke="#cd5f5f" text-anchor="end">TEP1*S1</text>
<text transform="translate(138.13 315.01) rotate(-6.21)" dy="0.4em" fill="#cd5f5f" stroke="#cd5f5f" text-anchor="end">TEP1*S1</text>
<text transform="translate(138.68 319.69) rotate(-7.24)" dy="0.4em" fill="#5cc8c8" stroke="#5cc8c8" text-anchor="end">TEP1*S1</text>
<text transform="translate(139.32 324.35) rotate(-8.28)" dy="0.4em" fill="#5cc8c8" stroke="#5cc8c8" text-anchor="end">TEP1*S1</text>
<text transform="translate(140.04 329.01) rotate(-9.31)" dy="0.4em" fill="#cd5f5f" stroke="#cd5f5f" text-anchor="end">TEP1*S1</text>
<text transform="translate(140.84 333.65) rotate(-10.34)" dy="0.4em" fill="#5cc8c8" stroke="#5cc8c8" text-anchor="end">TEP1*S1</text>
<text transform="translate(141.73 338.28) rotate(-11.38)" dy="0.4em" fill="#5cc8c8" stroke="#5cc8c8" text-anchor="end">TEP1*S1</text>
<text transform="translate(142.7 342.89) rotate(-12.41)" dy="0.4em" fill="#5cc8c8" stroke="#5cc8c8" text-anchor="end">TEP1*S1</text>
<text transform="translate(143.75 347.48) rotate(-13.45)" dy="0.4em" fill="#cd5f5f" stroke="#cd5f5f" text-anchor="end">TEP1*S1</text>
<text transform="translate(144.89 352.05) rotate(-14.48)" dy="0.4em" fill="#5cc8c8" stroke="#5cc8c8" text-anchor="end">TEP1*S1</text>
<text transform="translate(146.11 356.6) rotate(-15.52)" dy="0.4em" fill="#5cc8c8" stroke="#5cc8c8" text-anchor="end">TEP1*S1</text>
<text transform="translate(147.41 361.13) rotate(-16.55)" dy="0.4em" fill="#5cc8c8" stroke="#5cc8c8" text-anchor="end">TEP1*S1</text>
<text transform="translate(148.79 365.63) rotate(-17.59)" dy="0.4em" fill="#5cc8c8" stroke="#5cc8c8" text-anchor="end">TEP1*S1</text>
<text transform="translate(150.26 370.11) rotate(-18.62)" dy="0.4em" fill="#5cc8c8" stroke="#5cc8c8" text-anchor="end">TEP1*S1</text>
<text transform="translate(151.8 374.56) rotate(-19.66)" dy="0.4em" fill="#5cc8c8" stroke="#5cc8c8" text-anchor="end">TEP1*S1</text>
<text transform="translate(153.43 378.98) rotate(-20.69)" dy="0.4em" fill="#cd5f5f" stroke="#cd5f5f" text-anchor="end">TEP1*S1</text>
<text transform="translate(155.13 383.37) rotate(-21.72)" dy="0.4em" fill="#cd5f5f" stroke="#cd5f5f" text-anchor="end">TEP1*S1</text>
<text transform="translate(156.91 387.73) rotate(-22.76)" dy="0.4em" fill="#9966cc" stroke="#9966cc" text-anchor="end">TEP1*S1</text>
<text transform="translate(158.77 392.06) rotate(-23.79)" dy="0.4em" fill="#cd5f5f" stroke="#cd5f5f" text-anchor="end">TEP1*S1</text>
<text transform="translate(160.71 396.35) rotate(-24.83)" dy="0.4em" fill="#cd5f5f" stroke="#cd5f5f" text-anchor="end">TEP1*S1</text>
<text transform="translate(162.73 400.61) rotate(-25.86)" dy="0.4em" fill="#5cc8c8" stroke="#5cc8c8" text-anchor="end">TEP1*S1</text>
<text transform="translate(164.82 404.83) rotate(-26.9)" dy="0.4em" fill="#cd5f5f" stroke="#cd5f5f" text-anchor="end">TEP1*S1</text>
<text transform="translate(166.99 409.01) rotate(-27.93)" dy="0.4em" fill="#cd5f5f" stroke="#cd5f5f" text-anchor="end">TEP1*S1</text>
<text transform="translate(169.24 413.15) rotate(-28.97)" dy="0.4em" fill="#5cc8c8" stroke="#5cc8c8" text-anchor="end">TEP1*S1</text>
<text transform="translate(171.55 417.25) rotate(-30)" dy="0.4em" fill="#5cc8c8" stroke="#5cc8c8" text-anchor="end">TEP1*S1</text>
<text transform="translate(173.95 421.31) rotate(-31.03)" dy="0.4em" fill="#5cc8c8" stroke="#5cc8c8" text-anchor="end">TEP1*S1</text>
<text transform="translate(176.41 425.32) rotate(-32.07)" dy="0.4em" fill="#cd5f5f" stroke="#cd5f5f" text-anchor="end">TEP1*S1</text>
<text transform="translate(178.95 429.29) rotate(-33.1)" dy="0.4em" fill="#9966cc" stroke="#9966cc" text-anchor="end">TEP1*S1</text>
<text transform="translate(181.56 433.21) rotate(-34.14)" dy="0.4em" fill="#9966cc" stroke="#9966cc" text-anchor="end">TEP1*S1</text>
<text transform="translate(184.23 437.09) rotate(-35.17)" dy="0.4em" fill="#5cc8c8" stroke="#5cc8c8" text-anchor="end">TEP1*S1</text>
<text transform="translate(186.98 440.91) rotate(-36.21)" dy="0.4em" fill="#5cc8c8" stroke="#5cc8c8" text-anchor="end">TEP1*S1</text>
<text transform="translate(189.8 444.69) rotate(-37.24)" dy="0.4em" fill="#5cc8c8" stroke="#5cc8c8" text-anchor="end">TEP1*S1</text>
<text transform="translate(192.68 448.41) rotate(-38.28)" dy="0.4em" fill="#5cc8c8" stroke="#5cc8c8" text-anchor="end">TEP1*S1</text>
<text transform="translate(195.63 452.09) rotate(-39.31)" dy="0.4em" fill="#5cc8c8" stroke="#5cc8c8" text-anchor="end">TEP1*S1</text>
<text transform="translate(198.65 455.7) rotate(-40.34)" dy="0.4em" fill="#5cc8c8" stroke="#5cc8c8" text-anchor="end">TEP1*S1</text>
<text transform="translate(201.73 459.27) rotate(-41.38)" dy="0.4em" fill="#5cc8c8" stroke="#5cc8c8" text-anchor="end">TEP1*S1</text>
<text transform="translate(204.88 462.77) rotate(-42.41)" dy="0.4em" fill="#5cc8c8" stroke="#5cc8c8" text-anchor="end">TEP1*S1</text>
<text transform="translate(208.09 466.22) rotate(-43.45)" dy="0.4em" fill="#5cc8c8" stroke="#5cc8c8" text-anchor="end">TEP1*S1</text>
<text transform="translate(211.36 469.61) rotate(-44.48)" dy="0.4em" fill="#5cc8c8" stroke="#5cc8c8" text-anchor="end">TEP1*S1</text>
<text transform="translate(214.69 472.94) rotate(-45.52)" dy="0.4em" fill="#5cc8c8" stroke="#5cc8c8" text-anchor="end">TEP1*S1</text>
<text transform="translate(218.08 476.21) rotate(-46.55)" dy="0.4em" fill="#cd5f5f" stroke="#cd5f5f" text-anchor="end">TEP1*S1</text>
<text transform="translate(221.53 479.42) rotate(-47.59)" dy="0.4em" fill="#5cc8c8" stroke="#5cc8c8" text-anchor="end">TEP1*S1</text>
<text transform="translate(225.03 482.57) rotate(-48.62)" dy="0.4em" fill="#cd5f5f" stroke="#cd5f5f" text-anchor="end">TEP1*S1</text>
<text transform="translate(232.21 488.67) rotate(-50.69)" dy="0.4em" fill="#5cc8c8" stroke="#5cc8c8" text-anchor="end">TEP1*S1</text>
<text transform="translate(235.89 491.62) rotate(-51.72)" dy="0.4em" fill="#5cc8c8" stroke="#5cc8c8" text-anchor="end">TEP1*S1</text>
<text transform="translate(239.61 494.5) rotate(-52.76)" dy="0.4em" fill="#9966cc" stroke="#9966cc" text-anchor="end">TEP1*S1</text>
<text transform="translate(243.39 497.32) rotate(-53.79)" dy="0.4em" fill="#9966cc" stroke="#9966cc" text-anchor="end">TEP1*S1</text>
<text transform="translate(247.21 500.07) rotate(-54.83)" dy="0.4em" fill="#9966cc" stroke="#9966cc" text-anchor="end">TEP1*S1</text>
<text transform="translate(251.09 502.74) rotate(-55.86)" dy="0.4em" fill="#9966cc" stroke="#9966cc" text-anchor="end">TEP1*S1</text>
<text transform="translate(255.01 505.35) rotate(-56.9)" dy="0.4em" fill="#9966cc" stroke="#9966cc" text-anchor="end">TEP1*S1</text>
<text transform="translate(258.98 507.89) rotate(-57.93)" dy="0.4em" fill="#9966cc" stroke="#9966cc" text-anchor="end">TEP1*S1</text>
<text transform="translate(262.99 510.35) rotate(-58.97)" dy="0.4em" fill="#9966cc" stroke="#9966cc" text-anchor="end">TEP1*S1</text>
<text transform="translate(267.05 512.75) rotate(-60)" dy="0.4em" fill="#9966cc" stroke="#9966cc" text-anchor="end">TEP1*S1</text>
<text transform="translate(271.15 515.06) rotate(-61.03)" dy="0.4em" fill="#9966cc" stroke="#9966cc" text-anchor="end">TEP1*S1</text>
<text transform="translate(275.29 517.31) rotate(-62.07)" dy="0.4em" fill="#9966cc" stroke="#9966cc" text-anchor="end">TEP1*S1</text>
<text transform="translate(279.47 519.48) rotate(-63.1)" dy="0.4em" fill="#9966cc" stroke="#9966cc" text-anchor="end">TEP1*S1</text>
<text transform="translate(283.69 521.57) rotate(-64.14)" dy="0.4em" fill="#9966cc" stroke="#9966cc" text-anchor="end">TEP1*S1</text>
<text transform="translate(287.95 523.59) rotate(-65.17)" dy="0.4em" fill="#9966cc" stroke="#9966cc" text-anchor="end">TEP1*S1</text>
<text transform="translate(292.24 525.53) rotate(-66.21)" dy="0.4em" fill="#9966cc" stroke="#9966cc" text-anchor="end">TEP1*S1</text>
<text transform="translate(296.57 527.39) rotate(-67.24)" dy="0.4em" fill="#9966cc" stroke="#9966cc" text-anchor="end">TEP1*S1</text>
<text transform="translate(300.93 529.17) rotate(-68.28)" dy="0.4em" fill="#9966cc" stroke="#9966cc" text-anchor="end">TEP1*S1</text>
<text transform="translate(305.32 530.87) rotate(-69.31)" dy="0.4em" fill="#9966cc" stroke="#9966cc" text-anchor="end">TEP1*S1</text>
<text transform="translate(309.74 532.5) rotate(-70.34)" dy="0.4em" fill="#9966cc" stroke="#9966cc" text-anchor="end">TEP1*S1</text>
<text transform="translate(314.19 534.04) rotate(-71.38)" dy="0.4em" fill="#9966cc" stroke="#9966cc" text-anchor="end">TEP1*S1</text>
<text transform="translate(318.67 535.51) rotate(-72.41)" dy="0.4em" fill="#9966cc" stroke="#9966cc" text-anchor="end">TEP1*S1</text>
<text transform="translate(323.17 536.89) rotate(-73.45)" dy="0.4em" fill="#9966cc" stroke="#9966cc" text-anchor="end">TEP1*S1</text>
<text transform="translate(327.7 538.19) rotate(-74.48)" dy="0.4em" fill="#9966cc" stroke="#9966cc" text-anchor="end">TEP1*S1</text>
<text transform="translate(332.25 539.41) rotate(-75.52)" dy="0.4em" fill="#9966cc" stroke="#9966cc" text-anchor="end">TEP1*S1</text>
<text transform="translate(336.82 540.55) rotate(-76.55)" dy="0.4em" fill="#9966cc" stroke="#9966cc" text-anchor="end">TEP1*S1</text>
<text transform="translate(341.41 541.6) rotate(-77.59)" dy="0.4em" fill="#9966cc" stroke="#9966cc" text-anchor="end">TEP1*S1</text>
<text transform="translate(346.02 542.57) rotate(-78.62)" dy="0.4em" fill="#9966cc" stroke="#9966cc" text-anchor="end">TEP1*S1</text>
<text transform="translate(350.65 543.46) rotate(-79.66)" dy="0.4em" fill="#9966cc" stroke="#9966cc" text-anchor="end">TEP1*S1</text>
<text transform="translate(355.29 544.26) rotate(-80.69)" dy="0.4em" fill="#9966cc" stroke="#9966cc" text-anchor="end">TEP1*S1</text>
<text transform="translate(359.95 544.98) rotate(-81.72)" dy="0.4em" fill="#9966cc" stroke="#9966cc" text-anchor="end">TEP1*S1</text>
<text transform="translate(364.61 545.62) rotate(-82.76)" dy="0.4em" fill="#9966cc" stroke="#9966cc" text-anchor="end">TEP1*S1</text>
<text transform="translate(369.29 546.17) rotate(-83.79)" dy="0.4em" fill="#9966cc" stroke="#9966cc" text-anchor="end">TEP1*S1</text>
<text transform="translate(373.98 546.64) rotate(-84.83)" dy="0.4em" fill="#9966cc" stroke="#9966cc" text-anchor="end">TEP1*S1</text>
<text transform="translate(378.67 547.02) rotate(-85.86)" dy="0.4em" fill="#9966cc" stroke="#9966cc" text-anchor="end">TEP1*S1</text>
<text transform="translate(383.38 547.32) rotate(-86.9)" dy="0.4em" fill="#9966cc" stroke="#9966cc" text-anchor="end">TEP1*S1</text>
<text transform="translate(388.08 547.53) rotate(-87.93)" dy="0.4em" fill="#9966cc" stroke="#9966cc" text-anchor="end">TEP1*S1</text>
<text transform="translate(392.79 547.66) rotate(-88.97)" dy="0.4em" fill="#9966cc" stroke="#9966cc" text-anchor="end">TEP1*S1</text>
<text transform="translate(397.5 547.7) rotate(-270)" dy="0.4em" fill="#9966cc" stroke="#9966cc">TEP1*S1</text>
<text transform="translate(402.21 547.66) rotate(-271.03)" dy="0.4em" fill="#9966cc" stroke="#9966cc">TEP1*S1</text>
<text transform="translate(406.92 547.53) rotate(-272.07)" dy="0.4em" fill="#9966cc" stroke="#9966cc">TEP1*S1</text>
<text transform="translate(411.62 547.32) rotate(-273.1)" dy="0.4em" fill="#9966cc" stroke="#9966cc">TEP1*S1</text>
<text transform="translate(416.33 547.02) rotate(-274.14)" dy="0.4em" fill="#9966cc" stroke="#9966cc">TEP1*S1</text>
<text transform="translate(421.02 546.64) rotate(-275.17)" dy="0.4em" fill="#9966cc" stroke="#9966cc">TEP1*S1</text>
<text transform="translate(425.71 546.17) rotate(-276.21)" dy="0.4em" fill="#9966cc" stroke="#9966cc">TEP1*S1</text>
<text transform="translate(430.39 545.62) rotate(-277.24)" dy="0.4em" fill="#9966cc" stroke="#9966cc">TEP1*S1</text>
<text transform="translate(435.05 544.98) rotate(-278.28)" dy="0.4em" fill="#9966cc" stroke="#9966cc">TEP1*S1</text>
<text transform="translate(439.71 544.26) rotate(-279.31)" dy="0.4em" fill="#9966cc" stroke="#9966cc">TEP1*S1</text>
<text transform="translate(444.35 543.46) rotate(-280.34)" dy="0.4em" fill="#9966cc" stroke="#9966cc">TEP1*S1</text>
<text transform="translate(448.98 542.57) rotate(-281.38)" dy="0.4em" fill="#9966cc" stroke="#9966cc">TEP1*S1</text>
<text transform="translate(453.59 541.6) rotate(-282.41)" dy="0.4em" fill="#9966cc" stroke="#9966cc">TEP1*S1</text>
<text transform="translate(458.18 540.55) rotate(-283.45)" dy="0.4em" fill="#9966cc" stroke="#9966cc">TEP1*S1</text>
<text transform="translate(462.75 539.41) rotate(-284.48)" dy="0.4em" fill="#9966cc" stroke="#9966cc">TEP1*S1</text>
<text transform="translate(467.3 538.19) rotate(-285.52)" dy="0.4em" fill="#9966cc" stroke="#9966cc">TEP1*S1</text>
<text transform="translate(471.83 536.89) rotate(-286.55)" dy="0.4em" fill="#9966cc" stroke="#9966cc">TEP1*S1</text>
<text transform="translate(476.33 535.51) rotate(-287.59)" dy="0.4em" fill="#9966cc" stroke="#9966cc">TEP1*S1</text>
<text transform="translate(480.81 534.04) rotate(-288.62)" dy="0.4em" fill="#cd5f5f" stroke="#cd5f5f">TEP1*S1</text>
<text transform="translate(485.26 532.5) rotate(-289.66)" dy="0.4em" fill="#9966cc" stroke="#9966cc">TEP1*S1</text>
<text transform="translate(489.68 530.87) rotate(-290.69)" dy="0.4em" fill="#9966cc" stroke="#9966cc">TEP1*S1</text>
<text transform="translate(494.07 529.17) rotate(-291.72)" dy="0.4em" fill="#9966cc" stroke="#9966cc">TEP1*S1</text>
<text transform="translate(498.43 527.39) rotate(-292.76)" dy="0.4em" fill="#9966cc" stroke="#9966cc">TEP1*S1</text>
<text transform="translate(502.76 525.53) rotate(-293.79)" dy="0.4em" fill="#9966cc" stroke="#9966cc">TEP1*S1</text>
<text transform="translate(507.05 523.59) rotate(-294.83)" dy="0.4em" fill="#9966cc" stroke="#9966cc">TEP1*S1</text>
<text transform="translate(511.31 521.57) rotate(-295.86)" dy="0.4em" fill="#9966cc" stroke="#9966cc">TEP1*S1</text>
<text transform="translate(515.53 519.48) rotate(-296.9)" dy="0.4em" fill="#9966cc" stroke="#9966cc">TEP1*S1</text>
<text transform="translate(519.71 517.31) rotate(-297.93)" dy="0.4em" fill="#9966cc" stroke="#9966cc">TEP1*S1</text>
<text transform="translate(523.85 515.06) rotate(-298.97)" dy="0.4em" fill="#9966cc" stroke="#9966cc">TEP1*S1</text>
<text transform="translate(527.95 512.75) rotate(-300)" dy="0.4em" fill="#9966cc" stroke="#9966cc">TEP1*S1</text>
<text transform="translate(532.01 510.35) rotate(-301.03)" dy="0.4em" fill="#9966cc" stroke="#9966cc">TEP1*S1</text>
<text transform="translate(536.02 507.89) rotate(-302.07)" dy="0.4em" fill="#9966cc" stroke="#9966cc">TEP1*S1</text>
<text transform="translate(539.99 505.35) rotate(-303.1)" dy="0.4em" fill="#9966cc" stroke="#9966cc">TEP1*S1</text>
<text transform="translate(543.91 502.74) rotate(-304.14)" dy="0.4em" fill="#9966cc" stroke="#9966cc">TEP1*S1</text>
<text transform="translate(547.79 500.07) rotate(-305.17)" dy="0.4em" fill="#5cc8c8" stroke="#5cc8c8">TEP1*S1</text>
<text transform="translate(551.61 497.32) rotate(-306.21)" dy="0.4em" fill="#9966cc" stroke="#9966cc">TEP1*S1</text>
<text transform="translate(555.39 494.5) rotate(-307.24)" dy="0.4em" fill="#9966cc" stroke="#9966cc">TEP1*S1</text>
<text transform="translate(559.11 491.62) rotate(-308.28)" dy="0.4em" fill="#cd5f5f" stroke="#cd5f5f">TEP1*S1</text>
<text transform="translate(562.79 488.67) rotate(-309.31)" dy="0.4em" fill="#9966cc" stroke="#9966cc">TEP1*S1</text>
<text transform="translate(566.4 485.65) rotate(-310.34)" dy="0.4em" fill="#9966cc" stroke="#9966cc">TEP1*S1</text>
<text transform="translate(569.97 482.57) rotate(-311.38)" dy="0.4em" fill="#9966cc" stroke="#9966cc">TEP1*S1</text>
<text transform="translate(573.47 479.42) rotate(-312.41)" dy="0.4em" fill="#9966cc" stroke="#9966cc">TEP1*S1</text>
<text transform="translate(576.92 476.21) rotate(-313.45)" dy="0.4em" fill="#9966cc" stroke="#9966cc">TEP1*S1</text>
<text transform="translate(580.31 472.94) rotate(-314.48)" dy="0.4em" fill="#9966cc" stroke="#9966cc">TEP1*S1</text>
<text transform="translate(583.64 469.61) rotate(-315.52)" dy="0.4em" fill="#9966cc" stroke="#9966cc">TEP1*S1</text>
<text transform="translate(586.91 466.22) rotate(-316.55)" dy="0.4em" fill="#9966cc" stroke="#9966cc">TEP1*S1</text>
<text transform="translate(590.12 462.77) rotate(-317.59)" dy="0.4em" fill="#9966cc" stroke="#9966cc">TEP1*S1</text>
<text transform="translate(593.27 459.27) rotate(-318.62)" dy="0.4em" fill="#9966cc" stroke="#9966cc">TEP1*S1</text>
<text transform="translate(596.35 455.7) rotate(-319.66)" dy="0.4em" fill="#9966cc" stroke="#9966cc">TEP1*S1</text>
<text transform="translate(599.37 452.09) rotate(-320.69)" dy="0.4em" fill="#9966cc" stroke="#9966cc">TEP1*S1</text>
<text transform="translate(602.32 448.41) rotate(-321.72)" dy="0.4em" fill="#9966cc" stroke="#9966cc">TEP1*S1</text>
<text transform="translate(605.2 444.69) rotate(-322.76)" dy="0.4em" fill="#9966cc" stroke="#9966cc">TEP1*S1</text>
<text transform="translate(608.02 440.91) rotate(-323.79)" dy="0.4em" fill="#9966cc" stroke="#9966cc">TEP1*S1</text>
<text transform="translate(610.77 437.09) rotate(-324.83)" dy="0.4em" fill="#9966cc" stroke="#9966cc">TEP1*S1</text>
<text transform="translate(613.44 433.21) rotate(-325.86)" dy="0.4em" fill="#9966cc" stroke="#9966cc">TEP1*S1</text>
<text transform="translate(616.05 429.29) rotate(-326.9)" dy="0.4em" fill="#9966cc" stroke="#9966cc">TEP1*S1</text>
<text transform="translate(618.59 425.32) rotate(-327.93)" dy="0.4em" fill="#9966cc" stroke="#9966cc">TEP1*S1</text>
<text transform="translate(621.05 421.31) rotate(-328.97)" dy="0.4em" fill="#9966cc" stroke="#9966cc">TEP1*S1</text>
<text transform="translate(623.45 417.25) rotate(-330)" dy="0.4em" fill="#9966cc" stroke="#9966cc">TEP1*S1</text>
<text transform="translate(625.76 413.15) rotate(-331.03)" dy="0.4em" fill="#9966cc" stroke="#9966cc">TEP1*S1</text>
<text transform="translate(628.01 409.01) rotate(-332.07)" dy="0.4em" fill="#9966cc" stroke="#9966cc">TEP1*S1</text>
<text transform="translate(630.18 404.83) rotate(-333.1)" dy="0.4em" fill="#9966cc" stroke="#9966cc">TEP1*S1</text>
<text transform="translate(632.27 400.61) rotate(-334.14)" dy="0.4em" fill="#9966cc" stroke="#9966cc">TEP1*S1</text>
<text transform="translate(634.29 396.35) rotate(-335.17)" dy="0.4em" fill="#9966cc" stroke="#9966cc">TEP1*S1</text>
<text transform="translate(636.23 392.06) rotate(-336.21)" dy="0.4em" fill="#9966cc" stroke="#9966cc">TEP1*S1</text>
<text transform="translate(638.09 387.73) rotate(-337.24)" dy="0.4em" fill="#9966cc" stroke="#9966cc">TEP1*S1</text>
<text transform="translate(639.87 383.37) rotate(-338.28)" dy="0.4em" fill="#9966cc" stroke="#9966cc">TEP1*S1</text>
<text transform="translate(641.57 378.98) rotate(-339.31)" dy="0.4em" fill="#9966cc" stroke="#9966cc">TEP1*S1</text>
<text transform="translate(643.2 374.56) rotate(-340.34)" dy="0.4em" fill="#9966cc" stroke="#9966cc">TEP1*S1</text>
<text transform="translate(644.74 370.11) rotate(-341.38)" dy="0.4em" fill="#9966cc" stroke="#9966cc">TEP1*S1</text>
<text transform="translate(646.21 365.63) rotate(-342.41)" dy="0.4em" fill="#9966cc" stroke="#9966cc">TEP1*S1</text>
<text transform="translate(647.59 361.13) rotate(-343.45)" dy="0.4em" fill="#9966cc" stroke="#9966cc">TEP1*S1</text>
<text transform="translate(648.89 356.6) rotate(-344.48)" dy="0.4em" fill="#9966cc" stroke="#9966cc">TEP1*S1</text>
<text transform="translate(650.11 352.05) rotate(-345.52)" dy="0.4em" fill="#9966cc" stroke="#9966cc">TEP1*S1</text>
<text transform="translate(651.25 347.48) rotate(-346.55)" dy="0.4em" fill="#9966cc" stroke="#9966cc">TEP1*S1</text>
<text transform="translate(652.3 342.89) rotate(-347.59)" dy="0.4em" fill="#9966cc" stroke="#9966cc">TEP1*S1</text>
<text transform="translate(653.27 338.28) rotate(-348.62)" dy="0.4em" fill="#9966cc" stroke="#9966cc">TEP1*S1</text>
<text transform="translate(654.16 333.65) rotate(-349.66)" dy="0.4em" fill="#9966cc" stroke="#9966cc">TEP1*S1</text>
<text transform="translate(654.96 329.01) rotate(-350.69)" dy="0.4em" fill="#9966cc" stroke="#9966cc">TEP1*S1</text>
<text transform="translate(655.68 324.35) rotate(-351.72)" dy="0.4em" fill="#9966cc" stroke="#9966cc">TEP1*S1</text>
<text transform="translate(656.32 319.69) rotate(-352.76)" dy="0.4em" fill="#9966cc" stroke="#9966cc">TEP1*S1</text>
<text transform="translate(656.87 315.01) rotate(-353.79)" dy="0.4em" fill="#9966cc" stroke="#9966cc">TEP1*S1</text>
<text transform="translate(657.34 310.32) rotate(-354.83)" dy="0.4em" fill="#9966cc" stroke="#9966cc">TEP1*S1</text>
<text transform="translate(657.72 305.63) rotate(-355.86)" dy="0.4em" fill="#9966cc" stroke="#9966cc">TEP1*S1</text>
<text transform="translate(658.23 296.22) rotate(-357.93)" dy="0.4em" fill="#9966cc" stroke="#9966cc">TEP1*S1</text>
<text transform="translate(658.36 291.51) rotate(-358.97)" dy="0.4em" fill="#9966cc" stroke="#9966cc">TEP1*S1</text>
<text transform="translate(658.4 286.8) rotate(-360)" dy="0.4em" fill="#9966cc" stroke="#9966cc">TEP1*S1</text>
</g>
</g>
<g filter="url(#idf)" font-family="'Liberation Sans', Arial, sans-serif">
<text x="0" y="30" font-size="10.45" fill="#000">species</text>
<rect x="0" y="38.2" width="13" height="12.6" fill="#cd5f5f"/>
<text x="26" y="49.3" font-size="10.35" font-style="italic" fill="#cd5f5f">Anopheles arabiensis</text>
<rect x="0" y="57.6" width="13" height="12.6" fill="#99cc5a"/>
<text x="26" y="68.7" font-size="10.35" font-style="italic" fill="#99cc5a">Anopheles coluzzii</text>
<rect x="0" y="77" width="13" height="12.6" fill="#5cc8c8"/>
<text x="26" y="88.1" font-size="10.35" font-style="italic" fill="#5cc8c8">Anopheles gambiae</text>
<rect x="0" y="96.4" width="13" height="12.6" fill="#9966cc"/>
<text x="26" y="107.5" font-size="10.35" font-style="italic" fill="#9966cc">Anopheles merus</text>
<path d="M409 616.4H439" stroke="#222" stroke-width="1"/>
<text x="424" y="629.6" font-size="8" text-anchor="middle" fill="#222">0.02</text>
</g>
</svg>
</body></html>
